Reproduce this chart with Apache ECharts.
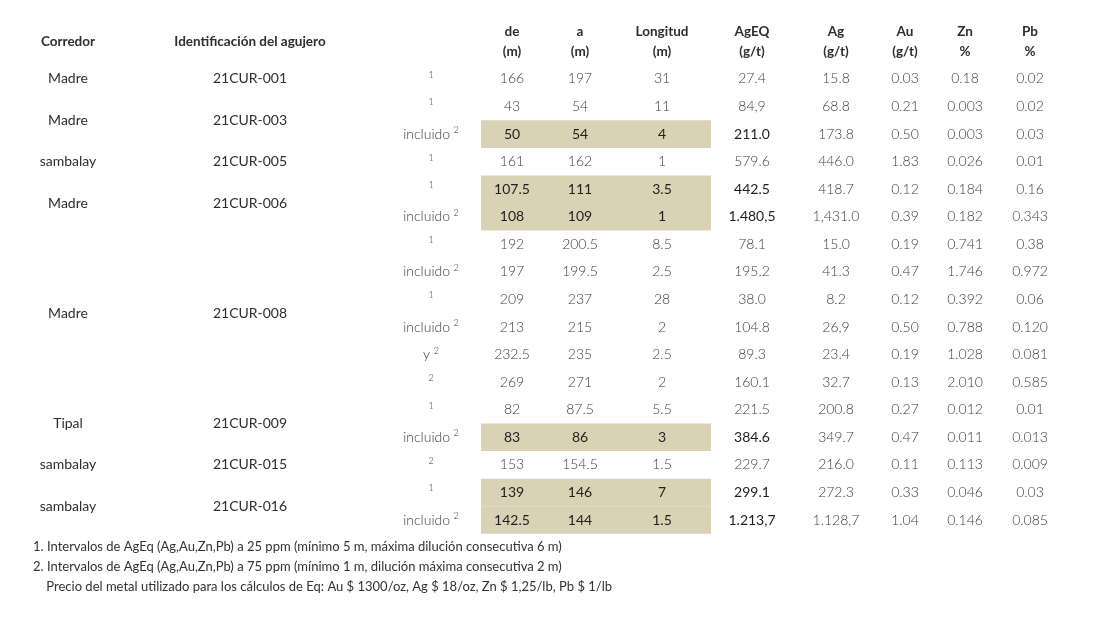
<!DOCTYPE html>
<html>
<head>
<meta charset="utf-8">
<script src="https://cdn.jsdelivr.net/npm/echarts@6/dist/echarts.min.js"></script>
<style>
html,body{margin:0;padding:0;background:#fff;}
#c{width:1096px;height:624px;}
</style>
</head>
<body>
<div id="c"></div>
<script>
// ---------- DATA ----------
const headers = [
  ['de', '(m)'], ['a', '(m)'], ['Longitud', '(m)'], ['AgEQ', '(g/t)'],
  ['Ag', '(g/t)'], ['Au', '(g/t)'], ['Zn', '%'], ['Pb', '%']
];
const holeHeaders = ['Corredor', 'Identificación del agujero'];

const corredor = ['Madre', 'Madre', 'sambalay', 'Madre', 'Madre', 'Tipal', 'sambalay', 'sambalay'];
const holeId = ['21CUR-001', '21CUR-003', '21CUR-005', '21CUR-006', '21CUR-008', '21CUR-009', '21CUR-015', '21CUR-016'];
const holeFirstRow = [0, 1, 3, 4, 6, 12, 14, 15];
const holeLastRow = [0, 2, 3, 5, 11, 13, 14, 16];

// interval label: [word, superscript note]
const intervalLabel = [
  ['', '1'], ['', '1'], ['incluido', '2'], ['', '1'], ['', '1'], ['incluido', '2'],
  ['', '1'], ['incluido', '2'], ['', '1'], ['incluido', '2'], ['y', '2'], ['', '2'],
  ['', '1'], ['incluido', '2'], ['', '2'], ['', '1'], ['incluido', '2']
];
const deM = ['166', '43', '50', '161', '107.5', '108', '192', '197', '209', '213', '232.5', '269', '82', '83', '153', '139', '142.5'];
const aM = ['197', '54', '54', '162', '111', '109', '200.5', '199.5', '237', '215', '235', '271', '87.5', '86', '154.5', '146', '144'];
const longitudM = ['31', '11', '4', '1', '3.5', '1', '8.5', '2.5', '28', '2', '2.5', '2', '5.5', '3', '1.5', '7', '1.5'];
const agEq = ['27.4', '84,9', '211.0', '579.6', '442.5', '1.480,5', '78.1', '195.2', '38.0', '104.8', '89.3', '160.1', '221.5', '384.6', '229.7', '299.1', '1.213,7'];
const ag = ['15.8', '68.8', '173.8', '446.0', '418.7', '1,431.0', '15.0', '41.3', '8.2', '26,9', '23.4', '32.7', '200.8', '349.7', '216.0', '272.3', '1.128,7'];
const au = ['0.03', '0.21', '0.50', '1.83', '0.12', '0.39', '0.19', '0.47', '0.12', '0.50', '0.19', '0.13', '0.27', '0.47', '0.11', '0.33', '1.04'];
const zn = ['0.18', '0.003', '0.003', '0.026', '0.184', '0.182', '0.741', '1.746', '0.392', '0.788', '1.028', '2.010', '0.012', '0.011', '0.113', '0.046', '0.146'];
const pb = ['0.02', '0.02', '0.03', '0.01', '0.16', '0.343', '0.38', '0.972', '0.06', '0.120', '0.081', '0.585', '0.01', '0.013', '0.009', '0.03', '0.085'];
const highlightedRows = [2, 4, 5, 13, 15, 16];

const footnotes = [
  '1. Intervalos de AgEq (Ag,Au,Zn,Pb) a 25 ppm (mínimo 5 m, máxima dilución consecutiva 6 m)',
  '2. Intervalos de AgEq (Ag,Au,Zn,Pb) a 75 ppm (mínimo 1 m, dilución máxima consecutiva 2 m)',
  '    Precio del metal utilizado para los cálculos de Eq: Au $ 1300/oz, Ag $ 18/oz, Zn $ 1,25/lb, Pb $ 1/lb'
];

// ---------- LAYOUT / STYLE ----------
const FONT = 'Lato, "Noto Sans", sans-serif';
const DARK = '#2e2e2e';
const LIGHT = '#3c3c3c';
const HL = '#d9d2b5';
const X_CORR = 68, X_ID = 250, X_LABEL = 431;
const X_COLS = [512, 580, 662, 752, 836, 905, 965, 1030];
const HL_LEFT = 481, HL_RIGHT = 711;

const rowIds = deM.map((_, i) => 'r' + i);
const columns = [deM, aM, longitudM, agEq, ag, au, zn, pb];

const chart = echarts.init(document.getElementById('c'), null, { renderer: 'canvas' });

function txt(x, y, text, opts) {
  return {
    type: 'text', x: x, y: y,
    style: Object.assign({
      text: text, fill: LIGHT, fontSize: 14, fontFamily: FONT, fontWeight: 300,
      align: 'center', verticalAlign: 'middle'
    }, opts || {})
  };
}

const supRich = {
  w: { fontSize: 14, fontFamily: FONT, fontWeight: 300, fill: LIGHT, lineHeight: 18 },
  s: { fontSize: 9, fontFamily: FONT, fontWeight: 300, fill: LIGHT, lineHeight: 18, padding: [0, 0, 8, 0] }
};

const option = {
  animation: false,
  backgroundColor: '#ffffff',
  grid: { left: 0, right: 0, top: 65.2, bottom: 90.2 },
  xAxis: { type: 'value', min: 0, max: 1096, show: false },
  yAxis: { type: 'category', data: rowIds, inverse: true, show: false },
  series: [
    {
      type: 'custom',
      silent: true,
      data: highlightedRows.map(r => [HL_LEFT, r]),
      renderItem: function (params, api) {
        const r = highlightedRows[params.dataIndex];
        const p1 = api.coord([HL_LEFT, r]);
        const p2 = api.coord([HL_RIGHT, r]);
        const band = api.size([0, 1])[1];
        return {
          type: 'rect',
          shape: { x: p1[0], y: p1[1] - band / 2, width: p2[0] - p1[0], height: band },
          style: { fill: HL }
        };
      }
    },
    {
      type: 'custom',
      silent: true,
      data: rowIds.map((_, i) => [X_LABEL, i]),
      renderItem: function (params, api) {
        const i = params.dataIndex;
        const hl = highlightedRows.indexOf(i) >= 0;
        const children = [];
        const lp = api.coord([X_LABEL, i]);
        const lab = intervalLabel[i];
        const t = (lab[0] ? '{w|' + lab[0] + '} ' : '') + '{s|' + lab[1] + '}';
        children.push({
          type: 'text', x: lp[0], y: lp[1],
          style: { text: t, rich: supRich, align: 'center', verticalAlign: 'middle', fontSize: 14, fontFamily: FONT }
        });
        columns.forEach(function (col, c) {
          const p = api.coord([X_COLS[c], i]);
          const bold = hl && c <= 3;
          children.push(txt(p[0], p[1], col[i], bold ? { fill: '#1e1e1e', fontWeight: 'normal' } : {}));
        });
        return { type: 'group', children: children };
      }
    },
    {
      type: 'custom',
      silent: true,
      data: holeId.map((_, h) => [X_ID, holeFirstRow[h]]),
      renderItem: function (params, api) {
        const h = params.dataIndex;
        const a = api.coord([X_CORR, holeFirstRow[h]]);
        const b = api.coord([X_CORR, holeLastRow[h]]);
        const y = (a[1] + b[1]) / 2;
        const xi = api.coord([X_ID, holeFirstRow[h]])[0];
        return {
          type: 'group',
          children: [
            txt(a[0], y, corredor[h], { fill: DARK, fontWeight: 'normal', fontSize: 14 }),
            txt(xi, y, holeId[h], { fill: DARK, fontWeight: 'normal', fontSize: 14 })
          ]
        };
      }
    }
  ],
  graphic: []
};

// headers and footnotes
const g = [];
const hStyle = { fill: DARK, fontSize: 13.5, fontWeight: 'bold', fontFamily: FONT, align: 'center', verticalAlign: 'middle' };
g.push({ type: 'text', x: X_CORR, y: 42, style: Object.assign({ text: holeHeaders[0] }, hStyle) });
g.push({ type: 'text', x: X_ID, y: 42, style: Object.assign({ text: holeHeaders[1] }, hStyle) });
headers.forEach(function (hd, c) {
  g.push({ type: 'text', x: X_COLS[c], y: 32, style: Object.assign({ text: hd[0] }, hStyle) });
  g.push({ type: 'text', x: X_COLS[c], y: 52, style: Object.assign({ text: hd[1] }, hStyle) });
});
footnotes.forEach(function (f, k) {
  g.push({ type: 'text', x: 33, y: 547 + k * 20, style: { text: f, fill: '#333', fontSize: 13, fontWeight: 'normal', fontFamily: FONT, align: 'left', verticalAlign: 'middle' } });
});
option.graphic = g;

chart.setOption(option);
</script>
</body>
</html>
